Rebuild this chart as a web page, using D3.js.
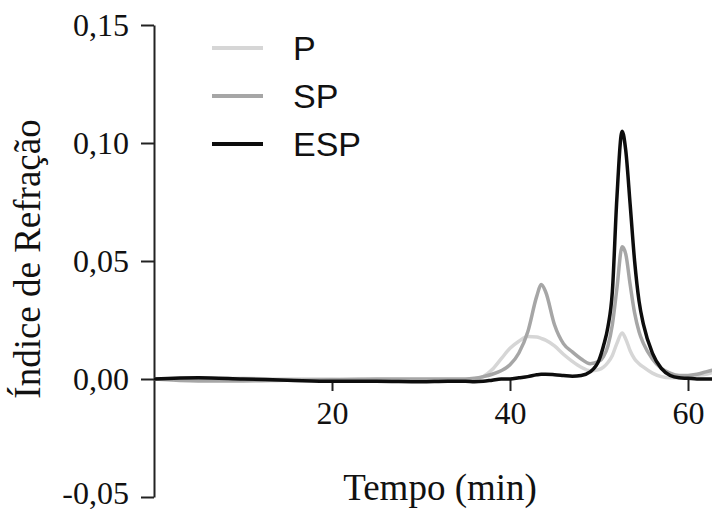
<!DOCTYPE html>
<html>
<head>
<meta charset="utf-8">
<script src="https://cdn.jsdelivr.net/npm/d3@7"></script>
<style>
  body { margin: 0; background: #fff; }
  svg { display: block; }
</style>
</head>
<body>
<div id="chart"></div>
<script>
// retention time (min), shared by the three series
const tempo = [0, 5, 10, 15, 20, 25, 30, 33, 35, 36, 37, 38, 39, 40, 41, 42, 43, 43.5, 44, 45, 46, 47, 48, 49,
    50, 50.5, 51, 51.5, 52, 52.6, 53, 53.5, 54, 54.5, 55, 56, 57, 58, 59, 60, 61, 62, 63];

const serieP = [0, 0, 0.0003, 0, 0, -0.0003, -0.0005, -0.0005, -0.0005, -0.0003, 0.001, 0.004, 0.0085, 0.013, 0.016, 0.018, 0.0178, 0.0172, 0.0165, 0.014, 0.0105, 0.0075, 0.005, 0.0035,
    0.004, 0.005, 0.007, 0.01, 0.015, 0.0195, 0.017, 0.012, 0.0085, 0.0065, 0.005, 0.0025, 0.001, 0.0005, 0.0005, 0.001, 0.0015, 0.002, 0.003];

const serieSP = [0, -0.0008, -0.0008, -0.0005, -0.0003, 0, 0, 0, 0, 0.0003, 0.001, 0.002, 0.0035, 0.006, 0.011, 0.02, 0.035, 0.04, 0.037, 0.023, 0.015, 0.0115, 0.0085, 0.0065,
    0.0075, 0.0095, 0.014, 0.023, 0.038, 0.056, 0.053, 0.04, 0.028, 0.02, 0.015, 0.0085, 0.0045, 0.0025, 0.0015, 0.0015, 0.002, 0.003, 0.004];

const serieESP = [0, 0.0005, 0, -0.0005, -0.001, -0.001, -0.0012, -0.001, -0.001, -0.0012, -0.001, -0.0005, 0, 0, 0.0005, 0.001, 0.0018, 0.002, 0.002, 0.0018, 0.0015, 0.0012, 0.0015, 0.003,
    0.008, 0.014, 0.022, 0.037, 0.076, 0.105, 0.097, 0.074, 0.05, 0.033, 0.023, 0.011, 0.0045, 0.0015, 0.0005, 0.0003, 0, 0, 0];

const yTicks = [-0.05, 0, 0.05, 0.10, 0.15];
const xTicks = [20, 40, 60];

const series = [
    { name: "P", values: serieP, color: "#d6d6d6" },
    { name: "SP", values: serieSP, color: "#a6a6a6" },
    { name: "ESP", values: serieESP, color: "#0d0d0d" }
];

const width = 712, height = 509;

let svg = d3.select("#chart")
    .append("svg")
    .attr("width", width)
    .attr("height", height);

// scales
let x = d3.scaleLinear().domain([0, 60]).range([154, 688]);
let y = d3.scaleLinear().domain([-0.05, 0.15]).range([497, 25]);

// y axis
let yAxis = svg.append("g")
    .attr("transform", "translate(154,0)")
    .call(d3.axisLeft(y)
        .tickValues(yTicks)
        .tickSize(13)
        .tickSizeOuter(0)
        .tickPadding(12)
        .tickFormat(d => d.toFixed(2).replace(".", ",")));

yAxis.selectAll("path, line").attr("stroke", "#222").attr("stroke-width", 2);
yAxis.selectAll("text")
    .attr("font-family", "'Liberation Serif', serif")
    .attr("font-size", 32)
    .attr("fill", "#111");

// bottom label sits at the page edge, pull it up a little so it is not cut
yAxis.selectAll(".tick")
    .filter(d => d < 0)
    .select("text")
    .attr("dy", "0.2em");

// x axis (ticks only, no domain line)
let xAxis = svg.append("g")
    .attr("transform", "translate(0," + y(0) + ")")
    .call(d3.axisBottom(x)
        .tickValues(xTicks)
        .tickSize(12)
        .tickPadding(10)
        .tickFormat(d3.format("d")));

xAxis.select(".domain").remove();
xAxis.selectAll("line").attr("stroke", "#222").attr("stroke-width", 2);
xAxis.selectAll("text")
    .attr("font-family", "'Liberation Serif', serif")
    .attr("font-size", 32)
    .attr("fill", "#111");

// curves
let line = d3.line()
    .x((d, i) => x(tempo[i]))
    .y(d => y(d))
    .curve(d3.curveMonotoneX);

svg.append("clipPath").attr("id", "plot-clip")
    .append("rect").attr("x", 154).attr("y", 0).attr("width", width - 154).attr("height", height);

svg.append("g")
    .attr("clip-path", "url(#plot-clip)")
    .selectAll("path")
    .data(series)
    .enter()
    .append("path")
    .attr("d", d => line(d.values))
    .attr("fill", "none")
    .attr("stroke", d => d.color)
    .attr("stroke-width", 3.5)
    .attr("stroke-linejoin", "round");

// legend
let legend = svg.append("g")
    .selectAll("g")
    .data(series)
    .enter()
    .append("g")
    .attr("transform", (d, i) => "translate(212," + (48 + i * 48) + ")");

legend.append("line")
    .attr("x1", 0).attr("x2", 51)
    .attr("stroke", d => d.color)
    .attr("stroke-width", 4);

legend.append("text")
    .attr("x", 81)
    .attr("dy", "0.36em")
    .attr("font-family", "'Liberation Sans', Arial, sans-serif")
    .attr("font-size", 34)
    .attr("fill", "#111")
    .text(d => d.name);

// axis titles
svg.append("text")
    .attr("transform", "translate(40,259) rotate(-90)")
    .attr("text-anchor", "middle")
    .attr("font-family", "'Liberation Serif', serif")
    .attr("font-size", 37)
    .attr("fill", "#111")
    .text("Índice de Refração");

svg.append("text")
    .attr("x", 440)
    .attr("y", 500)
    .attr("text-anchor", "middle")
    .attr("font-family", "'Liberation Serif', serif")
    .attr("font-size", 37)
    .attr("fill", "#111")
    .text("Tempo (min)");
</script>
</body>
</html>
